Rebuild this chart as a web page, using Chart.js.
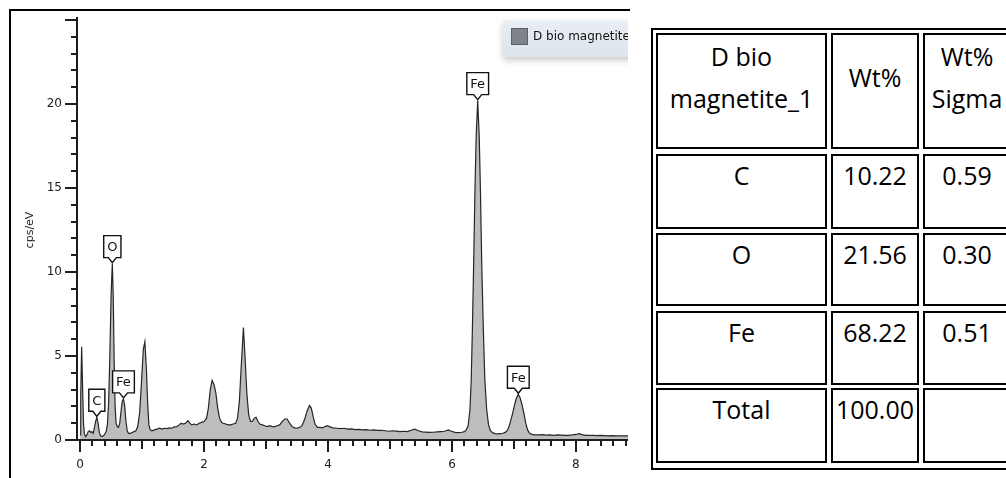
<!DOCTYPE html>
<html>
<head>
<meta charset="utf-8">
<script src="https://cdn.jsdelivr.net/npm/chart.js@4.4.1/dist/chart.umd.min.js"></script>
<style>
html,body{margin:0;padding:0;background:#fff;}
body{width:1006px;height:478px;position:relative;overflow:hidden;}
#panel{position:absolute;left:9px;top:9px;width:619px;height:480px;border-left:2px solid #000;border-top:2px solid #000;overflow:hidden;}
#wrap{position:absolute;left:0;top:0;width:617px;height:467px;}
#tblOuter{position:absolute;left:651px;top:28px;width:380px;height:438px;border:2px solid #000;}
.cell{position:absolute;box-sizing:border-box;border:2px solid #000;font-family:'Open Sans',sans-serif;font-size:25px;color:#000;text-align:center;line-height:38px;overflow:hidden;}
.head{line-height:42px;}
</style>
</head>
<body>
<div id="panel"><div id="wrap"><canvas id="c"></canvas></div></div>
<div id="tblOuter"></div>
<div id="table"></div>
<script>
// ---------- spectrum data (energy in keV, counts in cps/eV) ----------
const energy = [0.00,0.01,0.025,0.04,0.055,0.07,0.09,0.11,0.13,0.15,0.17,0.19,0.21,0.23,0.25,0.27,0.29,0.31,0.33,0.36,0.39,0.42,0.44,0.46,0.48,0.50,0.52,0.535,0.55,0.565,0.58,0.60,0.62,0.64,0.66,0.68,0.70,0.72,0.74,0.76,0.78,0.81,0.84,0.87,0.90,0.93,0.96,0.99,1.02,1.045,1.07,1.09,1.11,1.13,1.16,1.20,1.24,1.28,1.32,1.36,1.40,1.44,1.48,1.52,1.56,1.60,1.63,1.66,1.70,1.74,1.77,1.80,1.84,1.88,1.92,1.96,2.00,2.04,2.07,2.10,2.13,2.16,2.19,2.22,2.25,2.28,2.31,2.35,2.39,2.43,2.47,2.51,2.54,2.57,2.60,2.635,2.66,2.69,2.72,2.75,2.78,2.81,2.84,2.87,2.90,2.94,2.98,3.02,3.06,3.10,3.14,3.18,3.22,3.26,3.30,3.34,3.38,3.42,3.46,3.50,3.54,3.58,3.62,3.66,3.70,3.73,3.76,3.79,3.83,3.87,3.91,3.95,3.99,4.03,4.08,4.14,4.20,4.26,4.32,4.38,4.44,4.50,4.56,4.62,4.68,4.74,4.80,4.86,4.92,4.98,5.04,5.10,5.16,5.22,5.28,5.34,5.40,5.46,5.52,5.58,5.64,5.70,5.76,5.82,5.88,5.94,5.99,6.05,6.11,6.16,6.20,6.23,6.26,6.29,6.31,6.33,6.35,6.37,6.39,6.415,6.44,6.46,6.48,6.505,6.53,6.56,6.59,6.62,6.66,6.70,6.74,6.78,6.82,6.86,6.89,6.92,6.95,6.98,7.01,7.04,7.07,7.10,7.13,7.16,7.19,7.22,7.25,7.29,7.34,7.40,7.46,7.52,7.58,7.64,7.70,7.76,7.82,7.88,7.94,8.00,8.05,8.10,8.16,8.22,8.28,8.34,8.40,8.46,8.52,8.58,8.64,8.70,8.76,8.82,8.88];
const counts = [0.3,2.6,5.55,3.2,1.0,0.35,0.2,0.3,0.5,0.55,0.45,0.5,0.4,0.7,1.1,1.35,1.0,0.45,0.25,0.2,0.3,0.5,0.9,2.2,5.0,8.6,10.5,8.5,4.6,2.0,1.0,0.8,0.75,1.0,1.7,2.3,2.45,2.0,1.1,0.55,0.4,0.4,0.45,0.5,0.55,0.8,1.6,3.4,5.4,5.85,4.2,2.2,0.9,0.6,0.55,0.6,0.65,0.7,0.65,0.7,0.68,0.72,0.7,0.78,0.8,0.9,1.0,0.95,1.0,1.15,1.0,0.9,0.95,0.9,1.0,1.05,1.1,1.3,1.9,3.0,3.55,3.3,2.8,1.9,1.3,1.05,1.0,0.95,0.9,0.9,0.95,1.0,1.3,2.3,4.4,6.7,5.0,2.8,1.5,1.1,1.1,1.3,1.35,1.1,0.95,0.9,0.85,0.8,0.85,0.8,0.8,0.85,0.9,1.1,1.25,1.25,1.0,0.8,0.72,0.7,0.75,0.85,1.2,1.7,2.05,1.9,1.4,0.95,0.75,0.75,0.72,0.8,0.85,0.78,0.72,0.7,0.68,0.7,0.65,0.66,0.62,0.63,0.6,0.62,0.58,0.6,0.57,0.58,0.55,0.52,0.55,0.53,0.5,0.52,0.5,0.58,0.64,0.55,0.48,0.47,0.45,0.46,0.48,0.5,0.52,0.6,0.52,0.45,0.44,0.46,0.5,0.6,0.85,1.8,3.5,6.7,10.5,14.7,18.0,20.2,18.0,14.7,10.5,6.7,3.6,1.8,0.9,0.55,0.42,0.38,0.36,0.38,0.4,0.45,0.55,0.8,1.2,1.6,2.1,2.5,2.72,2.5,2.1,1.6,1.0,0.6,0.42,0.33,0.3,0.3,0.32,0.29,0.3,0.28,0.3,0.29,0.27,0.28,0.3,0.33,0.38,0.32,0.28,0.27,0.28,0.26,0.27,0.26,0.25,0.26,0.25,0.24,0.25,0.24,0.24];
const seriesName = 'D bio magnetite_1';
const yTitle = 'cps/eV';
const yLabelTicks = [0, 5, 10, 15, 20];
const xLabelTicks = [0, 2, 4, 6, 8];
const peakLabels = ['C', 'O', 'Fe', 'Fe', 'Fe'];
const peakEnergies = [0.27, 0.52, 0.70, 6.415, 7.07];

// ---------- table data ----------
const tableHeader = ['D bio magnetite_1', 'Wt%', 'Wt% Sigma'];
const tableElements = ['C', 'O', 'Fe', 'Total'];
const tableWt = ['10.22', '21.56', '68.22', '100.00'];
const tableSigma = ['0.59', '0.30', '0.51', ''];

// ---------- build table ----------
(function(){
  const colLeft = [656, 831, 923], colW = [171, 88, 88];
  const rowTop = [33, 154, 233, 311, 388], rowH = [116, 75, 73, 74, 75];
  const t = document.getElementById('table');
  function cell(r, c, text, cls, padTop){
    const d = document.createElement('div');
    d.className = 'cell' + (cls ? ' ' + cls : '');
    d.style.left = colLeft[c] + 'px'; d.style.top = rowTop[r] + 'px';
    d.style.width = colW[c] + 'px'; d.style.height = rowH[r] + 'px';
    if (padTop) d.style.paddingTop = padTop + 'px';
    d.textContent = text;
    t.appendChild(d);
  }
  cell(0, 0, tableHeader[0], 'head', 0);
  cell(0, 1, tableHeader[1], 'head', 21);
  cell(0, 2, tableHeader[2], 'head', 0);
  for (let i = 0; i < tableElements.length; i++) {
    cell(i + 1, 0, tableElements[i]);
    cell(i + 1, 1, tableWt[i]);
    cell(i + 1, 2, tableSigma[i]);
  }
})();

// ---------- plugins ----------
const axesPlugin = {
  id: 'axesDraw',
  afterDatasetsDraw(chart) {
    const {ctx, chartArea: a, scales: {x, y}} = chart;
    ctx.save();
    ctx.strokeStyle = '#1e1e1e';
    ctx.lineWidth = 2;
    ctx.beginPath();
    ctx.moveTo(a.left, a.top - 3); ctx.lineTo(a.left, a.bottom + 1);
    ctx.moveTo(a.left - 1, a.bottom); ctx.lineTo(a.right, a.bottom);
    ctx.stroke();
    ctx.beginPath();
    y.ticks.forEach(t => {
      const py = Math.round(y.getPixelForValue(t.value));
      const len = (Math.round(t.value) % 5 === 0) ? 12 : 6;
      ctx.moveTo(a.left - len, py); ctx.lineTo(a.left, py);
    });
    x.ticks.forEach(t => {
      const px = Math.round(x.getPixelForValue(t.value));
      const r = Math.round(t.value);
      let len = 6;
      if (Math.abs(t.value - r) < 1e-6) len = (r % 2 === 0) ? 12 : 9;
      ctx.moveTo(px, a.bottom); ctx.lineTo(px, a.bottom + len);
    });
    ctx.stroke();
    ctx.restore();
  }
};

const calloutPlugin = {
  id: 'callouts',
  afterDatasetsDraw(chart) {
    const {ctx, scales: {x, y}} = chart;
    const pts = chart.data.datasets[0].data;
    ctx.save();
    ctx.font = '13px "DejaVu Sans"';
    ctx.textAlign = 'center';
    ctx.textBaseline = 'middle';
    peakLabels.forEach((lab, k) => {
      const e = peakEnergies[k];
      let best = null;
      pts.forEach(p => { if (Math.abs(p.x - e) <= 0.03 && (!best || p.y > best.y)) best = p; });
      const cx = x.getPixelForValue(best.x);
      const tipY = y.getPixelForValue(best.y) - 1;
      const w = ctx.measureText(lab).width + 7;
      const h = 22;
      const bottom = tipY - 5;
      const top = bottom - h;
      const left = cx - w / 2, right = cx + w / 2;
      ctx.beginPath();
      ctx.moveTo(left, top);
      ctx.lineTo(right, top);
      ctx.lineTo(right, bottom);
      ctx.lineTo(cx + 4, bottom);
      ctx.lineTo(cx, tipY);
      ctx.lineTo(cx - 4, bottom);
      ctx.lineTo(left, bottom);
      ctx.closePath();
      ctx.fillStyle = '#ffffff';
      ctx.fill();
      ctx.lineWidth = 1.4;
      ctx.strokeStyle = '#111';
      ctx.stroke();
      ctx.fillStyle = '#111';
      ctx.fillText(lab, cx, top + h / 2 + 1);
    });
    ctx.restore();
  }
};

const legendPlugin = {
  id: 'boxLegend',
  afterDraw(chart) {
    const {ctx, chartArea: a} = chart;
    const ds = chart.data.datasets[0];
    const lx = a.right - 125, ly = a.top + 1, lw = 160, lh = 36;
    ctx.save();
    ctx.shadowColor = 'rgba(0,0,0,0.22)';
    ctx.shadowBlur = 7;
    ctx.shadowOffsetY = 3;
    const g = ctx.createLinearGradient(0, ly, 0, ly + lh);
    g.addColorStop(0, '#e9eef4');
    g.addColorStop(1, '#dde4ec');
    ctx.fillStyle = g;
    ctx.fillRect(lx, ly, lw, lh);
    ctx.shadowColor = 'transparent';
    ctx.fillStyle = '#7f838b';
    ctx.fillRect(lx + 8, ly + 7, 17, 17);
    ctx.strokeStyle = '#5c6068';
    ctx.lineWidth = 1;
    ctx.strokeRect(lx + 8.5, ly + 7.5, 16, 16);
    ctx.fillStyle = '#111';
    ctx.font = '12px "DejaVu Sans"';
    ctx.textBaseline = 'middle';
    ctx.fillText(ds.label, lx + 30, ly + 16);
    ctx.restore();
  }
};

function zeroPad(s) { s.paddingTop = 0; s.paddingBottom = 0; s.paddingLeft = 0; s.paddingRight = 0; }

// ---------- chart ----------
const canvas = document.getElementById('c');
canvas.width = 617; canvas.height = 467;
new Chart(canvas, {
  type: 'line',
  data: {
    datasets: [{
      label: seriesName,
      data: energy.map((e, i) => ({x: e, y: counts[i]})),
      borderColor: '#262626',
      borderWidth: 1.2,
      backgroundColor: '#bdbdbd',
      fill: 'origin',
      pointRadius: 0,
      tension: 0
    }]
  },
  options: {
    responsive: false,
    animation: false,
    devicePixelRatio: 1,
    layout: {padding: {top: 9, left: 0, right: 0, bottom: 0}},
    plugins: {legend: {display: false}, tooltip: {enabled: false}},
    scales: {
      x: {
        type: 'linear', min: -0.05, max: 8.84,
        afterFit(s) { s.height = 38; zeroPad(s); },
        border: {display: false},
        grid: {display: false, drawTicks: false},
        ticks: {
          stepSize: 0.2, includeBounds: false, autoSkip: false, maxRotation: 0, minRotation: 0,
          padding: 18, color: '#222', font: {family: 'DejaVu Sans', size: 12},
          callback: (v) => { const r = Math.round(v); return (Math.abs(v - r) < 1e-6 && xLabelTicks.includes(r)) ? String(r) : ''; }
        }
      },
      y: {
        min: 0, max: 25,
        afterFit(s) { s.width = 66; zeroPad(s); },
        border: {display: false},
        grid: {display: false, drawTicks: false},
        title: {display: true, text: yTitle, color: '#222', font: {family: 'DejaVu Sans', size: 11}, padding: {top: 13, bottom: 0}},
        ticks: {
          stepSize: 1, autoSkip: false, padding: 15, color: '#222', font: {family: 'DejaVu Sans', size: 12},
          callback: (v) => yLabelTicks.includes(v) ? String(v) : ''
        }
      }
    }
  },
  plugins: [axesPlugin, calloutPlugin, legendPlugin]
});
</script>
</body>
</html>
